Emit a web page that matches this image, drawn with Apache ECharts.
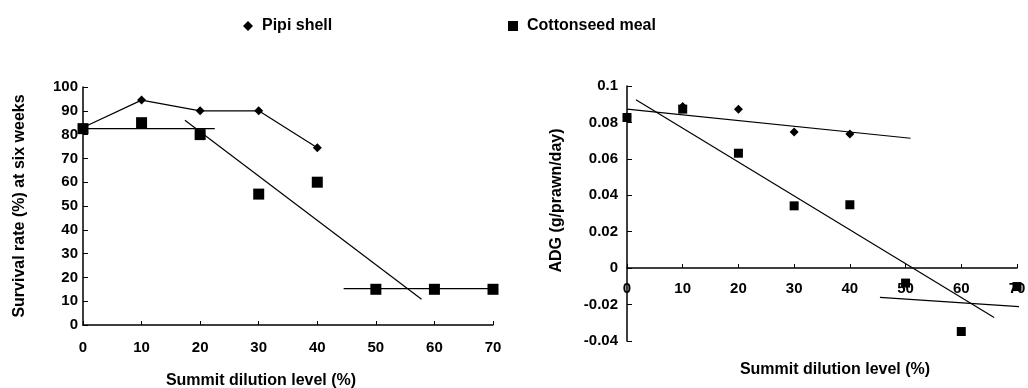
<!DOCTYPE html>
<html>
<head>
<meta charset="utf-8">
<script src="https://cdn.jsdelivr.net/npm/echarts@6/dist/echarts.min.js"></script>
<style>
  html, body { margin: 0; padding: 0; background: #fff; }
  #chart { width: 1028px; height: 388px; }
</style>
</head>
<body>
<div id="chart"></div>
<script>
  // dilution levels (%)
  var levels = [0, 10, 20, 30, 40, 50, 60, 70];

  // survival rate (%) at six weeks
  var survivalPipi = [83, 94.5, 90, 90, 74.5];
  var survivalCotton = [82.5, 85, 80, 55, 60, 15, 15, 15];
  // fitted segments for cottonseed meal survival
  var survivalFitA = [[0, 82.5], [22.5, 82.5]];
  var survivalFitB = [[17.4, 86], [57.8, 10.8]];
  var survivalFitC = [[44.5, 15.3], [73.9, 15.3]];

  // ADG (g/prawn/day)
  var adgPipi = [0.083, 0.0888, 0.0873, 0.0747, 0.0736];
  var adgCotton = [0.0827, 0.0873, 0.0631, 0.0342, 0.0348, -0.0082, -0.0348, -0.0101];
  var adgFitPipi = [[0, 0.0873], [50.9, 0.0713]];
  var adgFitCotton = [[1.6, 0.0924], [65.9, -0.0271]];
  var adgFitTail = [[45.4, -0.0161], [72, -0.0214]];

  function pairs(xs, ys) {
    return ys.map(function (v, i) { return [xs[i], v]; });
  }

  var font = 'Liberation Sans, Arial, sans-serif';
  var axisLine = { lineStyle: { color: '#000', width: 1.5 } };
  var tickLabel = { color: '#000', fontWeight: 'bold', fontSize: 15, fontFamily: font };
  var nameStyle = { color: '#000', fontWeight: 'bold', fontSize: 16, fontFamily: font };
  var legendText = { color: '#000', fontWeight: 'bold', fontSize: 16, fontFamily: font, padding: [0, 0, 0, 4] };

  function fitLine(name, data, xi, yi) {
    return {
      name: name, type: 'line', xAxisIndex: xi, yAxisIndex: yi,
      data: data, symbol: 'none', silent: true,
      lineStyle: { color: '#000', width: 1.2 }, z: 1
    };
  }

  var chart = echarts.init(document.getElementById('chart'));
  chart.setOption({
    animation: false,
    backgroundColor: '#fff',
    color: ['#000', '#000'],
    legend: [{
      data: [{ name: 'Pipi shell', icon: 'diamond' }],
      left: 238, top: 13, itemWidth: 10, itemHeight: 10,
      textStyle: legendText
    }, {
      data: [{ name: 'Cottonseed meal', icon: 'rect' }],
      left: 503, top: 13, itemWidth: 10, itemHeight: 10,
      textStyle: legendText
    }],
    grid: [
      { left: 83, top: 87, width: 410, height: 238, outerBoundsMode: 'none' },
      { left: 627, top: 86, width: 390, height: 255, outerBoundsMode: 'none' }
    ],
    xAxis: [{
      gridIndex: 0, type: 'value', min: 0, max: 70, interval: 10,
      axisLine: axisLine, splitLine: { show: false },
      axisTick: { inside: true, length: 4, lineStyle: { color: '#000' } },
      axisLabel: Object.assign({ margin: 15 }, tickLabel),
      name: 'Summit dilution level (%)', nameLocation: 'middle', nameGap: 48,
      nameMoveOverlap: false,
      nameTextStyle: Object.assign({ padding: [0, 54, 0, 0] }, nameStyle)
    }, {
      gridIndex: 1, type: 'value', min: 0, max: 70, interval: 10,
      // axis sits on the zero line of the ADG scale
      offset: -73,
      axisLine: Object.assign({ onZero: false }, axisLine), splitLine: { show: false },
      axisTick: { inside: true, length: 4, lineStyle: { color: '#000' } },
      axisLabel: Object.assign({ margin: 13 }, tickLabel),
      name: 'Summit dilution level (%)', nameLocation: 'middle', nameGap: 94,
      nameMoveOverlap: false,
      nameTextStyle: Object.assign({ padding: [0, 0, 0, 26] }, nameStyle)
    }],
    yAxis: [{
      gridIndex: 0, type: 'value', min: 0, max: 100, interval: 10,
      axisLine: Object.assign({ show: true }, axisLine), splitLine: { show: false },
      axisTick: { show: true, inside: true, length: 5, lineStyle: { color: '#000' } },
      axisLabel: Object.assign({ margin: 5 }, tickLabel),
      name: 'Survival rate (%) at six weeks', nameLocation: 'middle', nameGap: 55,
      nameMoveOverlap: false,
      nameTextStyle: nameStyle
    }, {
      gridIndex: 1, type: 'value', min: -0.04, max: 0.1, interval: 0.02,
      axisLine: Object.assign({ show: true }, axisLine), splitLine: { show: false },
      axisTick: { show: true, inside: true, length: 5, lineStyle: { color: '#000' } },
      axisLabel: Object.assign({
        margin: 9,
        formatter: function (v) { return String(Math.round(v * 100) / 100); }
      }, tickLabel),
      name: 'ADG (g/prawn/day)', nameLocation: 'middle', nameGap: 62,
      nameMoveOverlap: false,
      nameTextStyle: Object.assign({ padding: [0, 0, 0, 26] }, nameStyle)
    }],
    series: [
      fitLine('fitA', survivalFitA, 0, 0),
      fitLine('fitB', survivalFitB, 0, 0),
      fitLine('fitC', survivalFitC, 0, 0),
      {
        name: 'Pipi shell', type: 'line', xAxisIndex: 0, yAxisIndex: 0,
        data: pairs(levels, survivalPipi), symbol: 'diamond', symbolSize: 9,
        lineStyle: { color: '#000', width: 1.2 }, itemStyle: { color: '#000', opacity: 1 }, z: 3
      },
      {
        name: 'Cottonseed meal', type: 'scatter', xAxisIndex: 0, yAxisIndex: 0,
        data: pairs(levels, survivalCotton), symbol: 'rect', symbolSize: 11,
        itemStyle: { color: '#000', opacity: 1 }, z: 4
      },
      fitLine('fitPipi', adgFitPipi, 1, 1),
      fitLine('fitCotton', adgFitCotton, 1, 1),
      fitLine('fitTail', adgFitTail, 1, 1),
      {
        name: 'Pipi shell', type: 'scatter', xAxisIndex: 1, yAxisIndex: 1,
        data: pairs(levels, adgPipi), symbol: 'diamond', symbolSize: 9,
        itemStyle: { color: '#000', opacity: 1 }, z: 3
      },
      {
        name: 'Cottonseed meal', type: 'scatter', xAxisIndex: 1, yAxisIndex: 1,
        data: pairs(levels, adgCotton), symbol: 'rect', symbolSize: 9,
        itemStyle: { color: '#000', opacity: 1 }, z: 4
      }
    ]
  });
</script>
</body>
</html>
